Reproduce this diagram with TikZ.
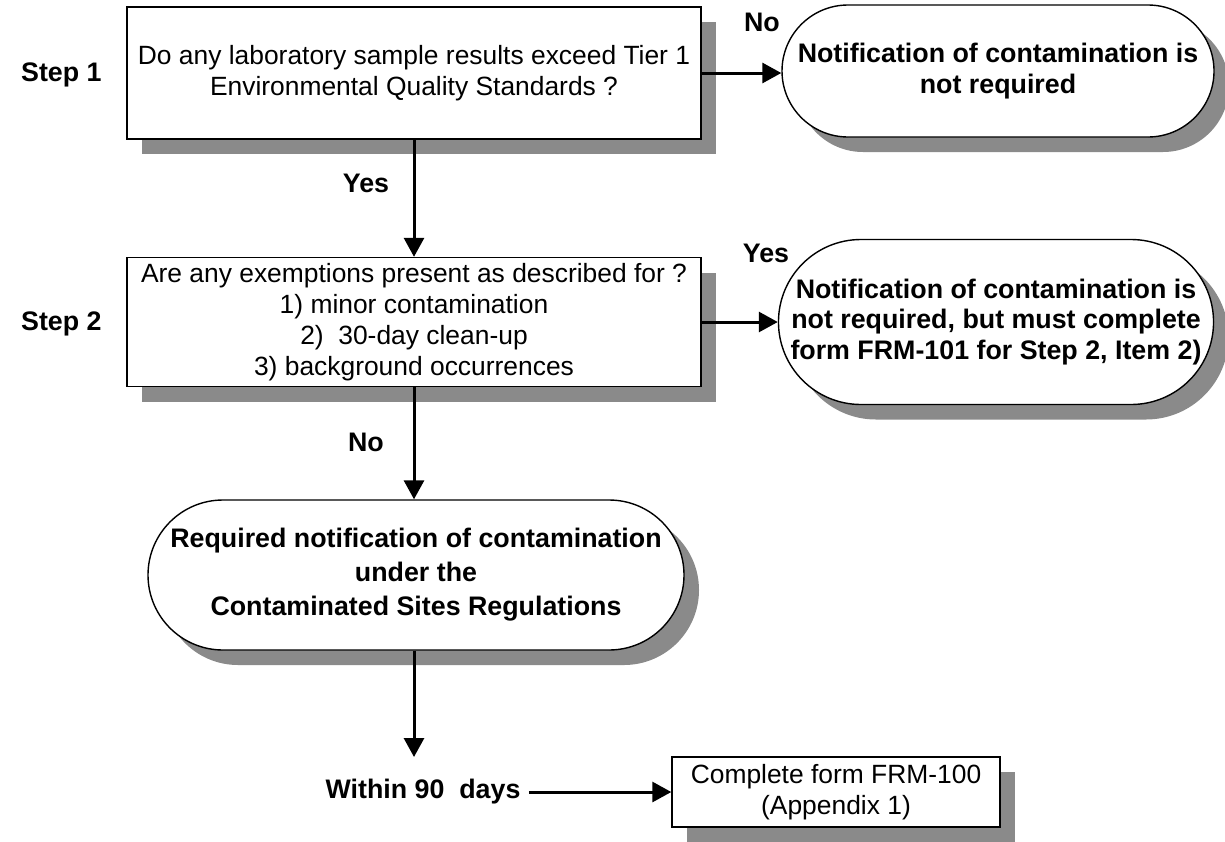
\documentclass[tikz,border=0pt]{standalone}
\usepackage{fontspec}
\setmainfont{Liberation Sans}
\usetikzlibrary{arrows.meta,shadows,shapes.misc}

\tikzset{
  greyshadow/.style={drop shadow={shadow xshift=7.5pt, shadow yshift=-7.5pt, fill=black!46, opacity=1}},
  question/.style={draw, fill=white, line width=0.7pt, align=center, inner sep=0pt, greyshadow,
    font=\fontsize{13.2}{15.5}\selectfont},
  outcome/.style={rounded rectangle, draw, fill=white, line width=0.7pt, align=center, inner sep=0pt, greyshadow,
    font=\fontsize{13.4}{15.2}\selectfont\bfseries},
  answer/.style={inner sep=0pt, font=\fontsize{13.4}{15}\selectfont\bfseries},
  flow/.style={line width=1.5pt, -{Triangle[length=9.5pt,width=10pt]}}
}

\begin{document}
\begin{tikzpicture}[x=0.5pt, y=-0.5pt]
    \useasboundingbox (0,0) rectangle (1225,841);

    % 1. Step 1 question and its "No" outcome
    \node [question, minimum width=287pt, minimum height=66pt] (tier) at (414, 73)
      {Do any laboratory sample results exceed Tier 1\\Environmental Quality Standards ?};
    \node [answer, anchor=east] (step1) at (102, 75) {Step 1};
    \node [outcome, minimum width=216pt, minimum height=66pt] (nonote) at (998, 71)
      {Notification of contamination is\\not required};
    \draw [flow] (tier.east) -- (tier.east -| nonote.west);
    \node [answer] (no1) at (762, 22) {No};

    % 2. Step 2 question and its "Yes" outcome
    \node [question, minimum width=287pt, minimum height=64.5pt] (exempt) at (414, 322)
      {Are any exemptions present as described for ?\\1) minor contamination\\2)\ \ 30-day clean-up\\3) background occurrences};
    \node [answer, anchor=east] (step2) at (102, 324) {Step 2};
    \draw [flow] (tier.south) -- (exempt.north);
    \node [answer] (yes1) at (366, 183) {Yes};
    \node [outcome, minimum width=215.5pt, minimum height=82.5pt] (formnote) at (996, 322)
      {Notification of contamination is\\not required, but must complete\\form FRM-101 for Step 2, Item 2)};
    \draw [flow] (exempt.east) -- (exempt.east -| formnote.west);
    \node [answer] (yes2) at (766, 253) {Yes};

    % 3. required notification
    \node [outcome, minimum width=268pt, minimum height=75pt, font=\fontsize{13.4}{17}\selectfont\bfseries] (required) at (416, 575)
      {Required notification of contamination\\under the\\Contaminated Sites Regulations};
    \draw [flow] (exempt.south) -- (exempt.south |- required.north);
    \node [answer] (no2) at (366, 442) {No};

    % 4. time limit and form
    \coordinate (daystop) at (414, 757);
    \draw [flow] (required.south -| exempt.south) -- (daystop);
    \node [answer] (within) at (423, 792) {Within 90\ \ days};
    \node [question, minimum width=164pt, minimum height=35pt] (frm) at (836, 792)
      {Complete form FRM-100\\(Appendix 1)};
    \draw [flow] ([xshift=4pt]within.east) -- (within.east -| frm.west);
\end{tikzpicture}
\end{document}
